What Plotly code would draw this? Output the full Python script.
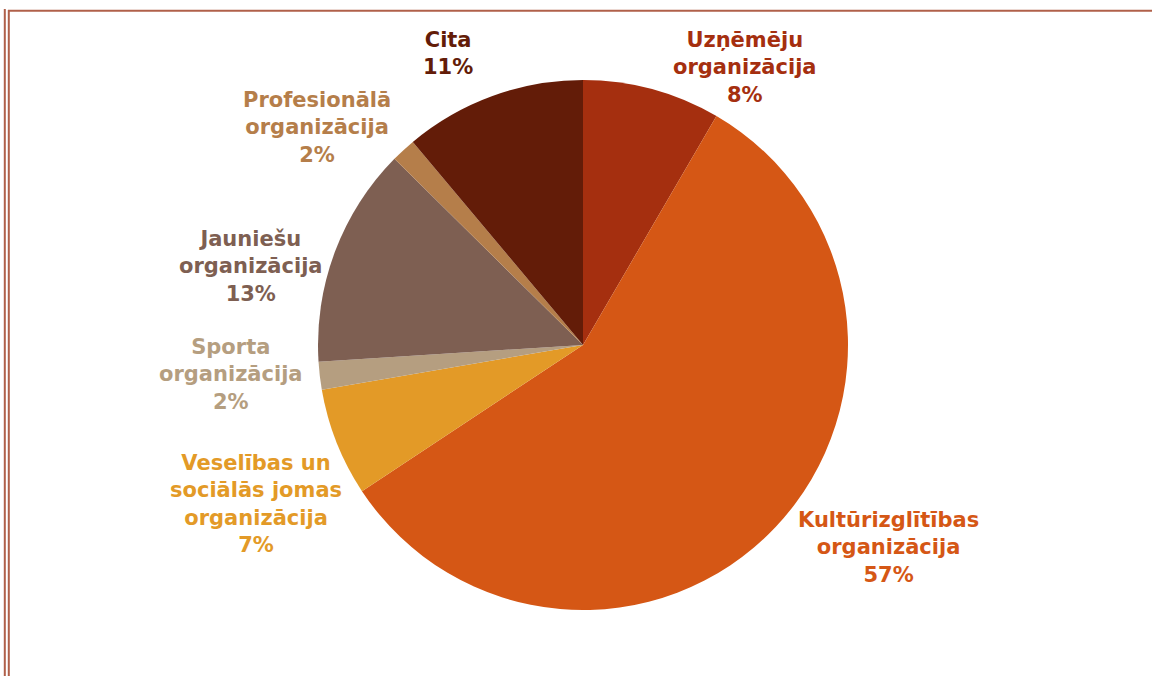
import plotly.graph_objects as go

W, H = 1152, 676

categories = [
    "Uzņēmēju<br>organizācija",
    "Kultūrizglītības<br>organizācija",
    "Veselības un<br>sociālās jomas<br>organizācija",
    "Sporta<br>organizācija",
    "Jauniešu<br>organizācija",
    "Profesionālā<br>organizācija",
    "Cita",
]
values = [8.4, 57.3, 6.6, 1.7, 13.4, 1.5, 11.1]
colors = ["#A52F0F", "#D55715", "#E39A27", "#B59E80", "#7E5F52", "#B57E4A", "#631C08"]

# label centres in pixels (x, y of block centre)
label_pos = [
    (745, 68),
    (888, 547),
    (256, 504),
    (231, 374),
    (251, 266),
    (317, 128),
    (448, 54),
]

cx, cy, r = 583, 345, 265

fig = go.Figure(go.Pie(
    labels=categories,
    values=values,
    sort=False,
    direction="clockwise",
    rotation=0,
    marker=dict(colors=colors, line=dict(width=0)),
    textinfo="none",
    hoverinfo="label+percent",
    showlegend=False,
    domain=dict(x=[(cx - r) / W, (cx + r) / W], y=[(H - cy - r) / H, (H - cy + r) / H]),
))

total = sum(values)
annotations = []
for lab, v, col, (px, py) in zip(categories, values, colors, label_pos):
    annotations.append(dict(
        text=f"<b>{lab}<br>{round(v / total * 100)}%</b>",
        x=px / W, y=1 - py / H, xref="paper", yref="paper",
        xanchor="center", yanchor="middle", align="center",
        showarrow=False,
        font=dict(family="DejaVu Sans", size=21, color=col),
    ))

bc = "#B0604A"
shapes = [
    dict(type="line", xref="paper", yref="paper", x0=4.8 / W, x1=4.8 / W, y0=1 - 9 / H, y1=0,
         line=dict(color=bc, width=2)),
    dict(type="line", xref="paper", yref="paper", x0=8.8 / W, x1=8.8 / W, y0=1 - 10 / H, y1=0,
         line=dict(color=bc, width=2)),
    dict(type="line", xref="paper", yref="paper", x0=8 / W, x1=1, y0=1 - 10.8 / H, y1=1 - 10.8 / H,
         line=dict(color=bc, width=2)),
]

fig.update_layout(
    width=W, height=H,
    margin=dict(l=0, r=0, t=0, b=0),
    paper_bgcolor="white", plot_bgcolor="white",
    annotations=annotations,
    shapes=shapes,
)

fig.write_html(
    "out.html",
    config={"displayModeBar": False},
    post_script="document.body.style.margin='0px';document.body.style.overflow='hidden';",
)
